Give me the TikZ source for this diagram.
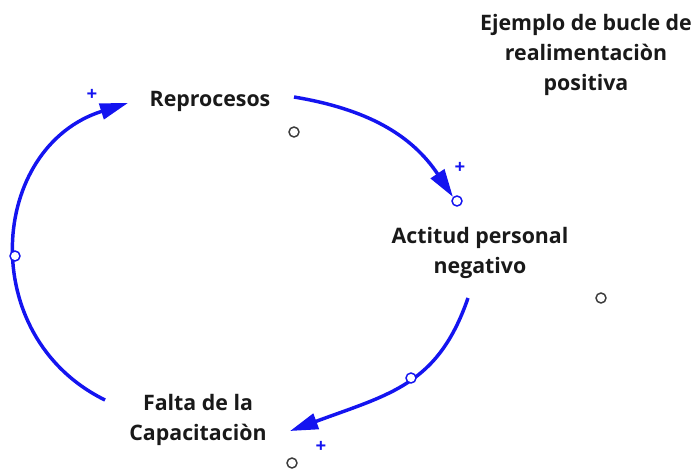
\documentclass[tikz,border=0pt]{standalone}
\usepackage{fontspec}
\setmainfont{Open Sans}
\usetikzlibrary{arrows.meta}
\definecolor{linkblue}{RGB}{20,20,240}
\definecolor{dotgray}{RGB}{60,60,60}
\tikzset{
  var/.style={font=\fontsize{16}{22.5}\selectfont\bfseries, align=center, inner sep=0pt, text=black!90},
  link/.style={draw=linkblue, line width=2.6pt, -{Triangle[length=21pt,width=12pt]}},
  plus/.style={text=linkblue, font=\fontsize{14}{15}\selectfont\bfseries, inner sep=0pt},
  ghost/.style={circle, draw=dotgray, line width=1.1pt, minimum size=7.5pt, inner sep=0pt, fill=white},
  linkdot/.style={circle, draw=linkblue, line width=1.1pt, minimum size=7.5pt, inner sep=0pt, fill=white}
}
\begin{document}
\begin{tikzpicture}[x=0.75pt,y=-0.75pt]
\useasboundingbox (0,0) rectangle (699,471);
% variables
\node[var] (rep) at (210,101) {Reprocesos};
\node[var] (act) at (480,253) {Actitud personal\\negativo};
\node[var] (fal) at (198,420) {Falta de la\\Capacitaciòn};
\node[var] (tit) at (586,55) {Ejemplo de bucle de\\realimentaciòn\\positiva};
% ghost circles
\node[ghost] (g1) at (294,132) {};
\node[ghost] (g2) at (601,298) {};
\node[ghost] (g3) at (292,463) {};
% connector endpoints
\coordinate (a1) at (294,97);
\node[linkdot] (m1) at (457,201) {};
\coordinate (a2) at (468,298);
\coordinate (b2) at (290,431);
\coordinate (a3) at (105,400);
\coordinate (b3) at (128,103);
% links
\draw[link] (a1) .. controls (366,109) and (411,134) .. (m1.north west);
\draw[link] (a2) .. controls (438,385) and (390,394) .. (b2);
\draw[link] (a3) .. controls (-25,336) and (-11,147) .. (b3);
% markers on links
\node[linkdot] (m2) at (411,378) {};
\node[linkdot] (m3) at (15,256) {};
% polarities
\node[plus] (p1) at (460,168) {+};
\node[plus] (p2) at (321,447) {+};
\node[plus] (p3) at (92,95) {+};
\end{tikzpicture}
\end{document}
